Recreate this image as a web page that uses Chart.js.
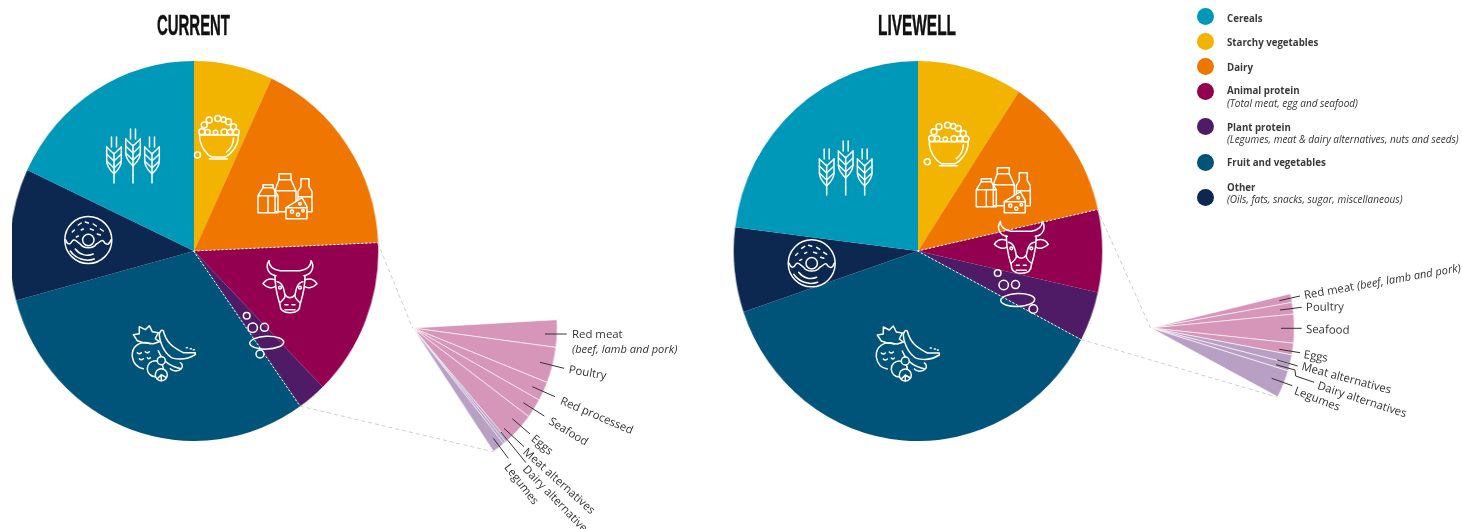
<!DOCTYPE html>
<html>
<head>
  <meta charset="utf-8">
  <title>Current and LiveWell diets</title>
  <script src="https://cdn.jsdelivr.net/npm/chart.js@4.2.1/dist/chart.umd.min.js"></script>
  <style>
    html, body { margin: 0; background: #fff; }
    #page { position: relative; width: 1462px; height: 529px; overflow: hidden; font-family: "Open Sans", sans-serif; color: #333; }
    #page canvas { position: absolute; transform: scaleX(0.97); }
    #overlay { position: absolute; left: 0; top: 0; }
    .title { position: absolute; height: 36px; font: bold 30px/36px "Liberation Sans Narrow", "Liberation Sans", sans-serif; color: #111; white-space: nowrap; -webkit-text-stroke: 0.5px #111; transform-origin: 0 50%; }
    .note { position: absolute; height: 14px; line-height: 14px; font-size: 11.4px; white-space: nowrap; transform-origin: 0 50%; color: #333; }
    .swatch { position: absolute; left: 1197px; width: 17px; height: 17px; border-radius: 50%; }
    .key { position: absolute; left: 1227px; height: 13px; line-height: 13px; font-size: 9.7px; font-weight: 700; white-space: nowrap; color: #3a3a3a; }
    .key.sub { font-size: 10px; font-weight: 400; font-style: italic; color: #333; }
    i { font-style: italic; font-size: 11.1px; }
  </style>
</head>
<body>
<div id="page">
  <canvas id="pieCurrent" width="380" height="380" style="left:3.5px;top:61px;clip-path:inset(0 0 0 3px)"></canvas>
  <canvas id="pieLivewell" width="380" height="380" style="left:727.5px;top:61px"></canvas>
  <canvas id="fanCurrent" width="298" height="298" style="left:263.7px;top:179.3px"></canvas>
  <canvas id="fanLivewell" width="296" height="296" style="left:1002.7px;top:180.3px"></canvas>

  <svg id="overlay" width="1462" height="529" fill="none" stroke="#fff" stroke-width="1.4" stroke-linecap="round" stroke-linejoin="round">
    <defs>
      <g id="ear">
        <path d="M0 0V-30M-2.5 -46V-36M2.5 -46V-36"/>
        <path d="M-7.3 -36L0 -29L7.3 -36M-7.3 -29L0 -22L7.3 -29M-7.3 -22L0 -15L7.3 -22"/>
        <path d="M-7.3 -36V-22C-7.3 -16 -3 -12 0 -9C3 -12 7.3 -16 7.3 -22V-36"/>
      </g>
      <g id="wheat">
        <use href="#ear" x="-19"/>
        <use href="#ear" x="19"/>
        <use href="#ear" y="-8"/>
        <path d="M0 0V-8"/>
      </g>
      <g id="bowl">
        <path d="M-19 1C-19 13 -11 21 -7 23H7C11 21 20 13 20 1Z"/>
        <path d="M-9 25H9M15 4C15 10 12 15 8 18"/>
        <circle cx="-16.7" cy="-2.3" r="3"/><circle cx="-14.3" cy="-9" r="3"/><circle cx="-9.3" cy="-14" r="3"/>
        <circle cx="-0.7" cy="-15.5" r="3"/><circle cx="5" cy="-14.5" r="2.6"/><circle cx="10" cy="-12.3" r="3"/>
        <circle cx="15" cy="-7.3" r="3"/><circle cx="17.7" cy="-1.7" r="3"/><circle cx="5.7" cy="-2" r="3"/>
        <circle cx="11.5" cy="-2" r="2.6"/><circle cx="-11" cy="-2" r="2.6"/><circle cx="-3" cy="-1.5" r="2.2"/>
        <circle cx="-21" cy="21" r="3"/>
      </g>
      <g id="dairy">
        <path d="M-27 16V-1L-22 -9H-12L-7 -1V16ZM-27 -1H-7M-17 -1V16M-22 -9V-12H-12V-9"/>
        <path d="M-10 -6L-6 -17H6L11 -6V8M-10 -6V15H0M-10 -6H11M-6 -17V-23H6V-17"/>
        <path d="M16 -18H24V-10L27 -5V15H20M16 -18V-10L13 -5V8M13 0H27"/>
        <path d="M1 11L17 1L22 10V22H1Z" fill="#ee7601"/>
        <path d="M1 11H22"/>
        <circle cx="7" cy="15" r="1.6"/><circle cx="13" cy="18" r="1.6"/><circle cx="18" cy="14" r="1.3"/><circle cx="15" cy="7" r="1.3"/>
      </g>
      <g id="cow">
        <path d="M-14 -11C-22 -12 -25 -20 -21 -26C-21 -20 -16 -17 -10 -16H10C16 -17 21 -20 21 -26C25 -20 22 -12 14 -11"/>
        <path d="M-15 -7C-21 -9 -25 -6 -27 -3C-23 1 -18 2 -15 0M15 -7C21 -9 25 -6 27 -3C23 1 18 2 15 0"/>
        <path d="M-15 -11C-15 3 -12 11 -10 18C-10 24 -5 26 0 26C5 26 10 24 10 18C12 11 15 3 15 -11"/>
        <path d="M-13 -5C-7 -4 -6 3 -5 8C-4 11 -8 14 -10 16M13 -5C7 -4 6 3 5 8C4 11 8 14 10 16"/>
        <path d="M-5 8C-2 12 2 12 5 8M-5 18H-2M2 18H5M-5 23H5"/>
        <circle cx="-10" cy="1" r="1.4"/><circle cx="10" cy="1" r="1.4"/>
      </g>
      <g id="bubbles">
        <ellipse rx="17" ry="6.4" transform="rotate(-2)"/>
        <circle cx="-20" cy="-27" r="3.3"/><circle cx="-14" cy="-15" r="4.7"/><circle cx="-2.2" cy="-15.4" r="4"/>
      </g>
      <g id="fruit">
        <path d="M-14 -11C-24 -15 -33 -8 -32 2C-31 9 -27 13 -21 14"/>
        <path d="M-27 -14L-31 -20L-25 -21L-25 -28L-19 -25L-15 -29L-12 -23L-6 -22L-9 -16L-5 -13L-11 -11L-21 -12Z"/>
        <path d="M-27 -2q2 2 4 0M-19 -3q2 2 4 0M-25 4q2 2 4 0M-17 3q2 2 3 0"/>
        <path d="M-1 -24C2 -12 8 -8 19 -2L31 -2C31 0 31 0 31 0C20 7 8 4 6 2C-2 -4 -5 -16 -5 -20C-5 -22 -3 -26 -1 -24Z"/>
        <path d="M-6 -4C-2 6 6 12 17 14C19 12 18 9 16 8M6 14C9 17 14 17 17 14"/>
        <path d="M22 -7h1M26 -6h1M29 -5h1"/>
        <circle cx="-9" cy="14" r="8" fill="#00547a"/>
        <circle cx="-3" cy="6" r="4" fill="#00547a"/>
        <circle cx="-3" cy="20" r="6" fill="#00547a"/>
        <path d="M-3 20L-7 24M-3 20L-3 26M-3 20L2 23"/>
      </g>
      <g id="donut">
        <circle r="23.5"/><circle r="5.7"/>
        <path d="M-22.5 0C-21 5 -18 5 -16 1C-14 -2 -11 2 -8 4C-5 9 5 9 8 4C11 3 13 -1 15 1C18 6 21 5 22.5 0"/>
        <path d="M-13 9A15 15 0 0 0 5 14M-18 11A21 21 0 0 0 6 19"/>
        <path d="M-10 -15l3 -2M-3 -18l3 1M5 -16l3 2M12 -11l3 2M-16 -8l2 -2M-7 -10l2 -1M2 -11l3 1M9 -6l3 1M-12 -3l2 -1"/>
      </g>
    </defs>

    <g id="connectors" stroke-linecap="butt" stroke-width="1"></g>

    <!-- icons sitting on the slices -->
    <g stroke-width="1.5">
      <use href="#wheat" x="133" y="183"/>
      <use href="#bowl" x="218.5" y="134"/>
      <use href="#dairy" x="285" y="196.7"/>
      <use href="#cow" x="290" y="286.7"/>
      <use href="#bubbles" x="266.7" y="342.7"/>
      <circle cx="260" cy="354" r="4"/>
      <use href="#fruit" x="164.3" y="354.7"/>
      <use href="#donut" x="88.3" y="240"/>

      <use href="#wheat" x="845.7" y="195"/>
      <use href="#bowl" x="948.3" y="140.7"/>
      <use href="#dairy" x="1003.3" y="190.7"/>
      <use href="#cow" x="1021.3" y="247.3"/>
      <use href="#bubbles" x="1017.7" y="300"/>
      <circle cx="1033.3" cy="309" r="4.3"/>
      <use href="#fruit" x="908.3" y="355"/>
      <use href="#donut" x="811.7" y="263.3"/>
    </g>

    <!-- leader lines from the fans to their labels -->
    <g stroke="#333" stroke-width="1" stroke-linecap="butt">
      <path d="M545 334H566.7M540 362.3L564 368.3M532.3 386.7L555 396.7M523.3 402.7L544.3 416M512.3 418.7L530 434M504 428.3L524 446.7M501 432L526 462.7M493.3 438.3L508.3 458.3"/>
      <path d="M1279.3 300.7L1300 296M1280 310L1301.7 307.3M1281 328.3H1301.7M1279.3 349.3L1300 352.7M1277.3 360L1297.7 366M1276 364.7L1295 370L1295.7 376L1314 382.3M1271.7 378.3L1292.3 385.7"/>
    </g>
  </svg>
</div>

<script>
  // food groups, clockwise from twelve o'clock (% of the plate)
  const foodGroups = ['Starchy vegetables', 'Dairy', 'Animal protein', 'Plant protein', 'Fruit and vegetables', 'Other', 'Cereals'];
  const groupColours = ['#f2b400', '#ee7601', '#940050', '#501b66', '#00547a', '#0c2850', '#0098b8'];
  const currentShares = [6.9, 17.4, 13.4, 2.5, 30.6, 11.2, 18.0];
  const livewellShares = [9.2, 12.3, 7.0, 4.2, 37.1, 7.2, 23.0];

  // protein breakdown fans, values are degrees of sweep
  const currentProteinItems = ['Red meat', 'Poultry', 'Red processed', 'Seafood', 'Eggs', 'Meat alternatives', 'Dairy alternatives', 'Legumes'];
  const currentProteinValues = [10.7, 14, 7.5, 7.6, 12.3, 1.1, 1.1, 5];
  const currentProteinColours = ['#d596ba', '#d596ba', '#d596ba', '#d596ba', '#d596ba', '#b8a0c4', '#b8a0c4', '#b8a0c4'];
  const currentFanStart = 86.8;

  const livewellProteinItems = ['Red meat', 'Poultry', 'Seafood', 'Eggs', 'Meat alternatives', 'Dairy alternatives', 'Legumes'];
  const livewellProteinValues = [3.4, 4.6, 11.3, 4.6, 3.5, 2.9, 10.9];
  const livewellProteinColours = ['#d596ba', '#d596ba', '#d596ba', '#d596ba', '#b8a0c4', '#b8a0c4', '#b8a0c4'];
  const livewellFanStart = 76.6;

  // legend rows
  const legendOrder = [6, 0, 1, 2, 3, 4, 5];
  const legendSubs = { 'Animal protein': '(Total meat, egg and seafood)', 'Plant protein': '(Legumes, meat & dairy alternatives, nuts and seeds)', 'Other': '(Oils, fats, snacks, sugar, miscellaneous)' };
  const legendRowY = [16.7, 41.7, 66, 91.3, 126.7, 162.3, 197.3];
  const legendTextY = [18, 42.5, 67, 90.7, 127, 162.7, 187];

  // label placement: text, x, y, rotation
  const fanLabels = [
    ['Red meat', 572, 334, 0],
    ['<i>(beef, lamb and pork)</i>', 572, 349, 0],
    ['Poultry', 569, 369, 10],
    ['Red processed', 560.7, 400, 23],
    ['Seafood', 550, 420, 31],
    ['Eggs', 532.7, 437, 39],
    ['Meat alternatives', 525, 450, 42],
    ['Dairy alternatives', 525, 467, 46],
    ['Legumes', 507, 465, 52],
    ['Red meat <i>(beef, lamb and pork)</i>', 1304, 295, -10],
    ['Poultry', 1306, 306.5, -1],
    ['Seafood', 1306, 329, 1],
    ['Eggs', 1304.3, 354, 9],
    ['Meat alternatives', 1301.7, 366, 15],
    ['Dairy alternatives', 1318, 385, 18],
    ['Legumes', 1295, 390, 21]
  ];

  const page = document.getElementById('page');

  function addText(cls, html, x, y, rot) {
    const el = document.createElement('div');
    el.className = cls;
    el.innerHTML = html;
    el.style.left = x + 'px';
    el.style.top = y + 'px';
    if (rot) el.style.transform = 'rotate(' + rot + 'deg)';
    page.appendChild(el);
    return el;
  }

  function makePie(id, shares) {
    return new Chart(document.getElementById(id), {
      type: 'pie',
      data: {
        labels: foodGroups,
        datasets: [{ data: shares, backgroundColor: groupColours, borderWidth: 0 }]
      },
      options: { responsive: false, animation: false, events: [], plugins: { legend: { display: false }, tooltip: { enabled: false } } }
    });
  }

  // the fan only sweeps part of the circle, the rest stays see-through
  function makeFan(id, items, values, colours, start) {
    const swept = values.reduce((a, b) => a + b, 0);
    return new Chart(document.getElementById(id), {
      type: 'pie',
      data: {
        labels: items.concat(''),
        datasets: [{
          data: values.concat(360 - swept),
          backgroundColor: colours.concat('rgba(0,0,0,0)'),
          borderColor: 'rgba(255,255,255,0.85)',
          borderWidth: values.map(() => 0.7).concat(0),
          rotation: start
        }]
      },
      options: { responsive: false, animation: false, events: [], plugins: { legend: { display: false }, tooltip: { enabled: false } } }
    });
  }

  const pieCurrent = makePie('pieCurrent', currentShares);
  const pieLivewell = makePie('pieLivewell', livewellShares);
  const fanCurrent = makeFan('fanCurrent', currentProteinItems, currentProteinValues, currentProteinColours, currentFanStart);
  const fanLivewell = makeFan('fanLivewell', livewellProteinItems, livewellProteinValues, livewellProteinColours, livewellFanStart);

  // position of a slice corner on the page, radius 0 gives the chart centre
  function arcPoint(chart, index, angleKey, useRadius) {
    const arc = chart.getDatasetMeta(0).data[index];
    const box = chart.canvas.getBoundingClientRect();
    const r = useRadius ? arc.outerRadius : 0;
    const x = arc.x + r * Math.cos(arc[angleKey]);
    const y = arc.y + r * Math.sin(arc[angleKey]);
    return [box.left + x * box.width / chart.width, box.top + y * box.height / chart.height];
  }

  function addLine(a, b, stroke, dash) {
    const line = document.createElementNS('http://www.w3.org/2000/svg', 'line');
    line.setAttribute('x1', a[0]); line.setAttribute('y1', a[1]);
    line.setAttribute('x2', b[0]); line.setAttribute('y2', b[1]);
    line.setAttribute('stroke', stroke);
    line.setAttribute('stroke-dasharray', dash);
    document.getElementById('connectors').appendChild(line);
  }

  // dashed guides: along the protein slices and out to the fan corners
  [[pieCurrent, fanCurrent, currentProteinValues], [pieLivewell, fanLivewell, livewellProteinValues]].forEach(([pie, fan, vals]) => {
    const centre = arcPoint(pie, 1, 'endAngle', false);
    const upper = arcPoint(pie, 1, 'endAngle', true);
    const lower = arcPoint(pie, 3, 'endAngle', true);
    addLine(centre, upper, '#fff', '2 2');
    addLine(centre, lower, '#fff', '2 2');
    addLine(upper, arcPoint(fan, 0, 'startAngle', false), '#cfcfcf', '4 3');
    addLine(lower, arcPoint(fan, vals.length - 1, 'endAngle', true), '#cfcfcf', '4 3');
  });

  // titles squeezed to the condensed headline width
  [['CURRENT', 157.3, 73], ['LIVEWELL', 878, 78]].forEach(([text, x, wide]) => {
    const el = addText('title', text, x, 7, 0);
    el.style.transform = 'scaleX(' + wide / el.getBoundingClientRect().width + ')';
  });

  fanLabels.forEach(([text, x, y, rot]) => addText('note', text, x, y - 7, rot));

  legendOrder.forEach((g, i) => {
    const sw = document.createElement('div');
    sw.className = 'swatch';
    sw.style.top = (legendRowY[i] - 8.5) + 'px';
    sw.style.background = groupColours[g];
    page.appendChild(sw);
    addText('key', foodGroups[g], 1227, legendTextY[i] - 6.5, 0);
    if (legendSubs[foodGroups[g]]) addText('key sub', legendSubs[foodGroups[g]], 1227, legendTextY[i] + 6, 0);
  });
</script>
</body>
</html>
